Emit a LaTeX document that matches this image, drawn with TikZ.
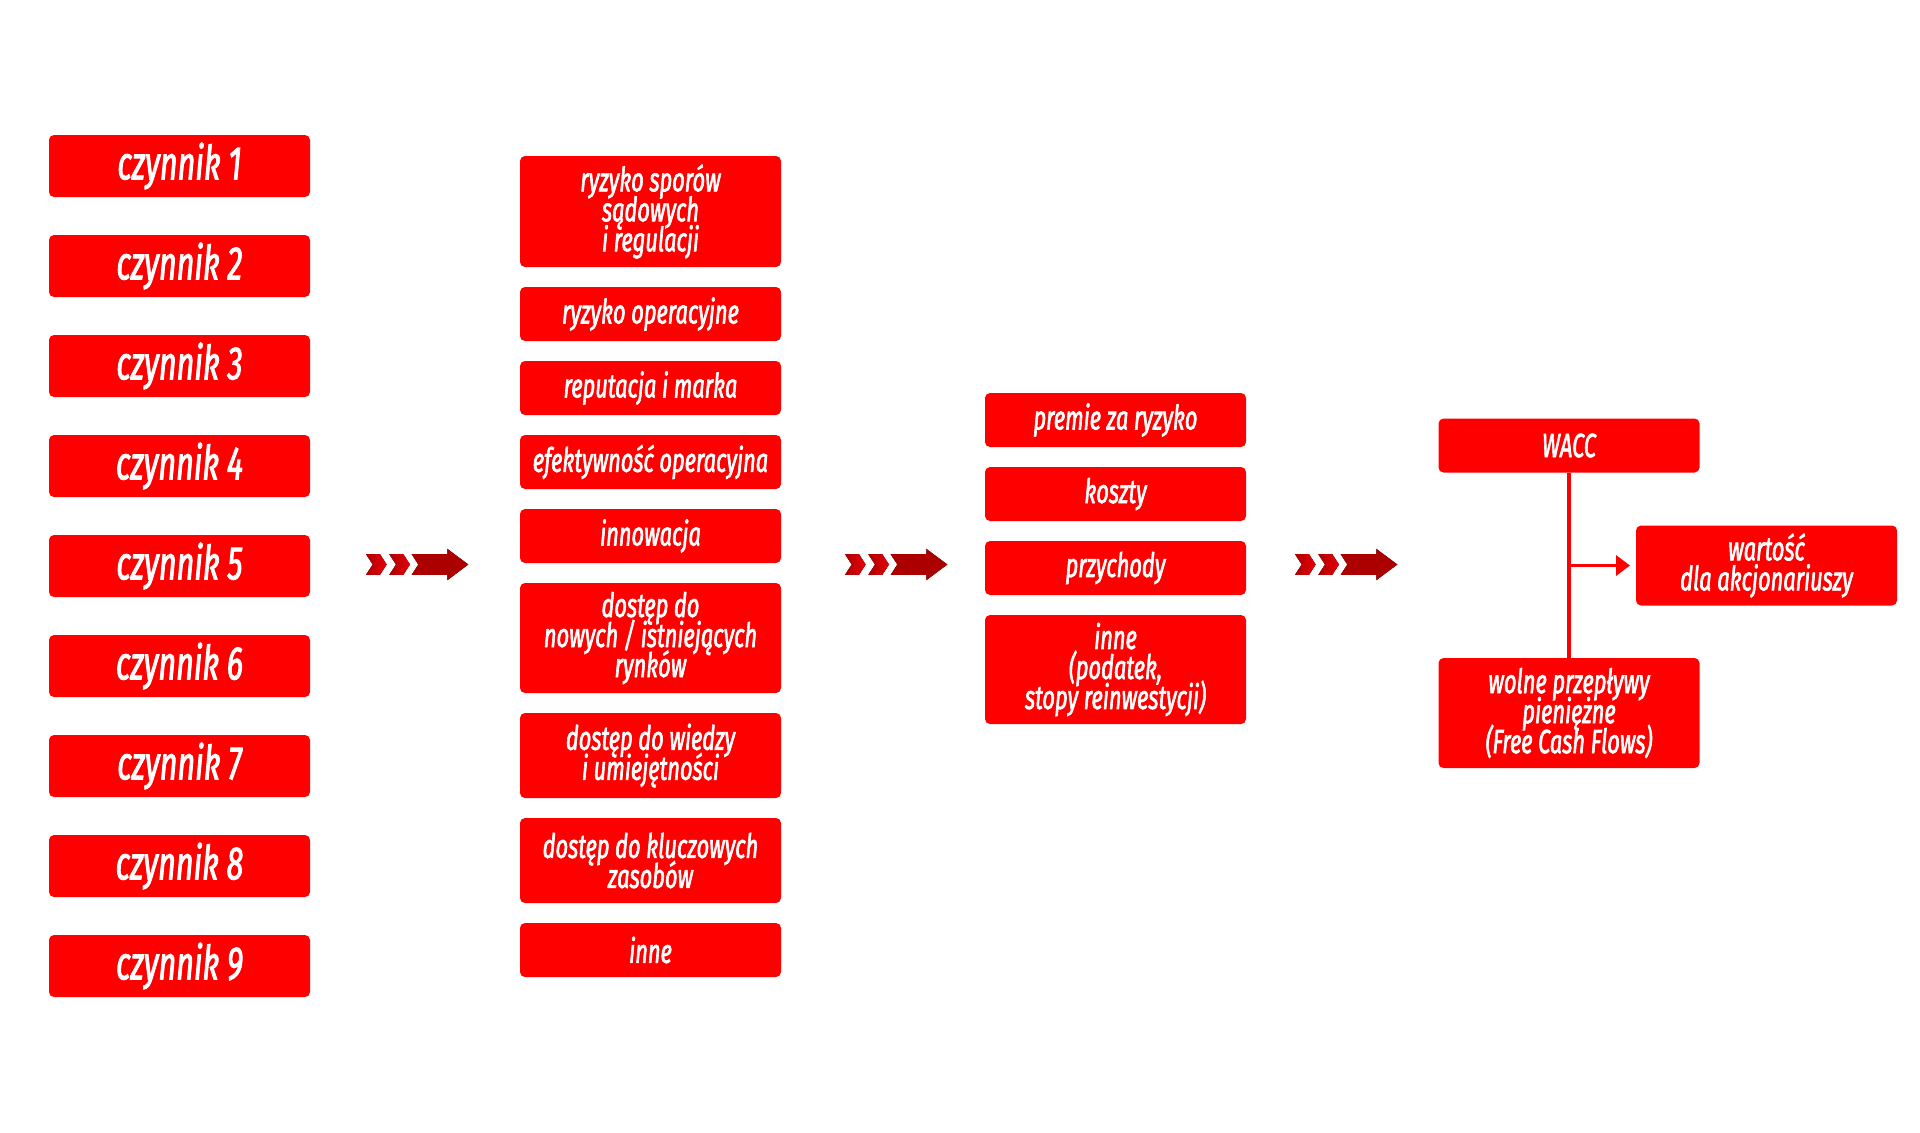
\documentclass[tikz,border=0pt]{standalone}
\usepackage{fontspec}
\setmainfont{Fira Sans}[FakeStretch=0.65,ItalicFeatures={FakeBold=1.8}]
\usetikzlibrary{arrows.meta,positioning}
\definecolor{boxred}{RGB}{255,0,0}
\definecolor{arrdark}{RGB}{172,0,0}
\definecolor{arrlight}{RGB}{232,0,10}
\newcommand\ciasno{\lineskiplimit=-100pt\relax}
\tikzset{
  %Define standard arrow tip
  >={Triangle[length=7pt,width=10pt]},
  %Define style for boxes
  skrzynka/.style={
    rectangle,
    rounded corners=2.5pt,
    fill=boxred,
    text=white,
    minimum width=130.5pt,
    minimum height=27pt,
    inner sep=0pt,
    outer sep=0pt,
    align=center,
    font=\itshape\fontsize{16.8}{15}\selectfont\ciasno},
  %Define style for boxes of the first column
  czynnik/.style={
    skrzynka,
    minimum height=31pt,
    font=\itshape\fontsize{23.5}{24}\selectfont},
  % Define line style
  linia/.style={
    draw=boxred,
    line width=1.7pt},
  % Define chevron arrow between columns
  strzalki/.pic={
    \fill[left color=arrdark,right color=arrlight]
      (0,-10.3) -- (14,-10.3) -- (20.7,0) -- (14,10.3) -- (0,10.3) -- (6.7,0) -- cycle;
    \fill[left color=arrdark,right color=arrlight]
      (23.3,-10.3) -- (37.3,-10.3) -- (44,0) -- (37.3,10.3) -- (23.3,10.3) -- (30,0) -- cycle;
    \fill[left color=arrdark,middle color=arrlight,right color=arrdark]
      (45.7,-10.3) -- (81.3,-10.3) -- (81.3,-15.7) -- (102.3,0) -- (81.3,15.7)
      -- (81.3,10.3) -- (45.7,10.3) -- (52.3,0) -- cycle;
  }
}

\begin{document}
\begin{tikzpicture}[x=0.5pt,y=-0.5pt]
  \useasboundingbox (0,0) rectangle (1920,1132);
  % factors
  \node[czynnik] (czyn1) at (179.5,166) {czynnik 1};
  \node[czynnik,below=19pt of czyn1] (czyn2) {czynnik 2};
  \node[czynnik,below=19pt of czyn2] (czyn3) {czynnik 3};
  \node[czynnik,below=19pt of czyn3] (czyn4) {czynnik 4};
  \node[czynnik,below=19pt of czyn4] (czyn5) {czynnik 5};
  \node[czynnik,below=19pt of czyn5] (czyn6) {czynnik 6};
  \node[czynnik,below=19pt of czyn6] (czyn7) {czynnik 7};
  \node[czynnik,below=19pt of czyn7] (czyn8) {czynnik 8};
  \node[czynnik,below=19pt of czyn8] (czyn9) {czynnik 9};
  % drivers
  \node[skrzynka,minimum height=55.5pt] (spory) at (650.5,211.5) {ryzyko sporów\\sądowych\\i regulacji};
  \node[skrzynka,below=10pt of spory] (operac) {ryzyko operacyjne};
  \node[skrzynka,below=10pt of operac] (reput) {reputacja i marka};
  \node[skrzynka,below=10pt of reput] (efekt) {efektywność operacyjna};
  \node[skrzynka,below=10pt of efekt] (innow) {innowacja};
  \node[skrzynka,minimum height=55pt,below=10pt of innow] (rynki) {dostęp do\\nowych / istniejących\\rynków};
  \node[skrzynka,minimum height=42.5pt,below=10pt of rynki] (wiedza) {dostęp do wiedzy\\i umiejętności};
  \node[skrzynka,minimum height=42.5pt,below=10pt of wiedza] (zasoby) {dostęp do kluczowych\\zasobów};
  \node[skrzynka,below=10pt of zasoby] (inne) {inne};
  % value parameters
  \node[skrzynka] (premie) at (1115.5,420) {premie za ryzyko};
  \node[skrzynka,below=10pt of premie] (koszty) {koszty};
  \node[skrzynka,below=10pt of koszty] (przych) {przychody};
  \node[skrzynka,minimum height=54.5pt,below=10pt of przych] (podatek) {inne\\(podatek,\\stopy reinwestycji)};
  % value
  \node[skrzynka] (wacc) at (1569,445.5) {WACC};
  \node[skrzynka,minimum height=55pt] (fcf) at (1569,713) {wolne przepływy\\pieniężne\\(Free Cash Flows)};
  \node[skrzynka,minimum height=40pt] (wart) at (1766.5,565.5) {wartość\\dla akcjonariuszy};
  \draw[linia] (wacc) -- (fcf);
  \draw[linia,->,shorten >=3pt] (wacc.south |- wart.west) -- (wart.west);
  % arrows between columns
  \pic at (366,564.5) {strzalki};
  \pic at (845,564.5) {strzalki};
  \pic at (1295,564.5) {strzalki};
\end{tikzpicture}
\end{document}
